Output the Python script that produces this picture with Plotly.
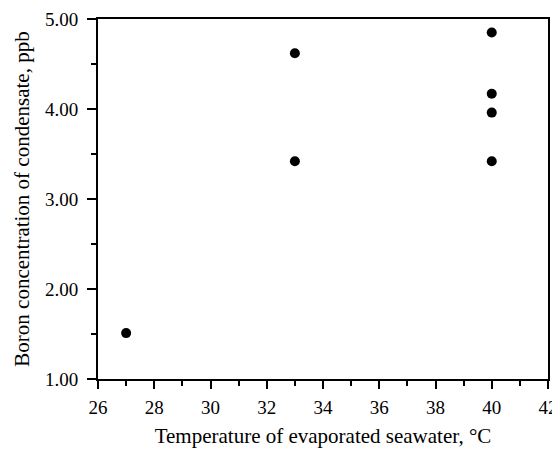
import plotly.graph_objects as go

temps = [27, 33, 33, 40, 40, 40, 40]
boron = [1.51, 4.62, 3.42, 4.85, 4.17, 3.96, 3.42]

x_ticks = [26, 28, 30, 32, 34, 36, 38, 40, 42]
y_ticks = [1.0, 2.0, 3.0, 4.0, 5.0]
y_labels = ["1.00", "2.00", "3.00", "4.00", "5.00"]

fig = go.Figure()
fig.add_trace(go.Scatter(x=temps, y=boron, mode="markers",
                         marker=dict(color="black", size=10), showlegend=False))

font = dict(family="Liberation Serif, Times New Roman, serif", color="black")
fig.update_layout(
    width=552, height=441,
    margin=dict(l=90, r=12, t=11, b=70),
    plot_bgcolor="white", paper_bgcolor="white",
    font=dict(size=19, **font),
    xaxis=dict(range=[26, 42], tickvals=x_ticks, ticks="outside", ticklen=8, tickwidth=2,
               tickcolor="black", showline=True, linecolor="black", linewidth=2, mirror=True,
               showgrid=False, zeroline=False, automargin=False, ticklabelstandoff=2,
               minor=dict(dtick=1, tick0=26, ticks="outside", ticklen=5, tickcolor="black", tickwidth=2),
               title=dict(text="Temperature of evaporated seawater, °C", font=dict(size=21), standoff=12),
               tickfont=dict(size=19)),
    yaxis=dict(range=[1, 5], tickvals=y_ticks, ticktext=y_labels, ticks="outside", ticklen=9, tickwidth=2,
               tickcolor="black", showline=True, linecolor="black", linewidth=2, mirror=True,
               showgrid=False, zeroline=False, automargin=False, ticklabelstandoff=5,
               minor=dict(dtick=0.5, tick0=1, ticks="outside", ticklen=5, tickcolor="black", tickwidth=2),
               title=dict(text="Boron concentration of condensate, ppb", font=dict(size=21), standoff=10),
               tickfont=dict(size=19)),
)
fig.write_html("out.html")
